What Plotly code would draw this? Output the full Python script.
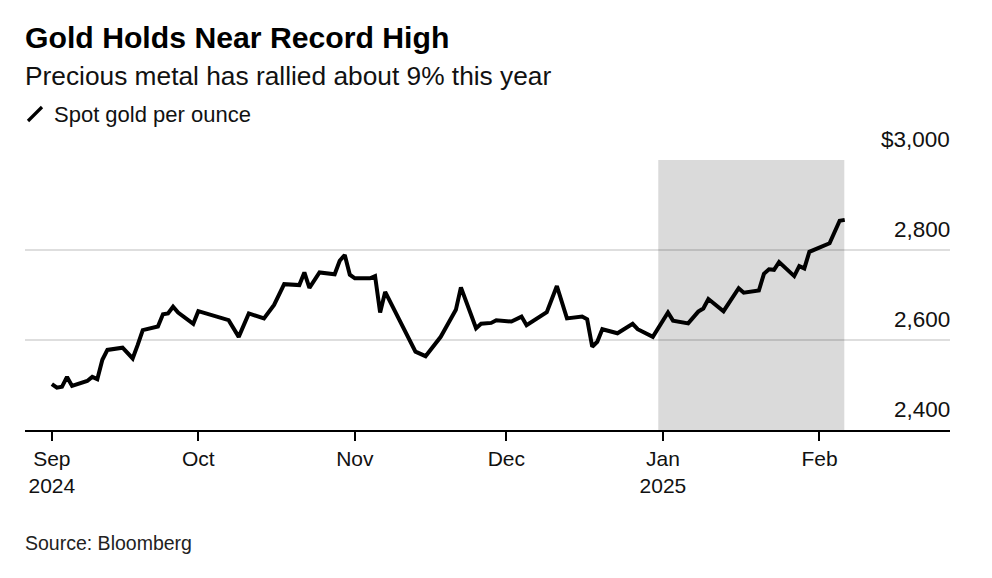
import plotly.graph_objects as go

dates = [
    "2024-09-02", "2024-09-03", "2024-09-04", "2024-09-05", "2024-09-06",
    "2024-09-09", "2024-09-10", "2024-09-11", "2024-09-12", "2024-09-13",
    "2024-09-16", "2024-09-18", "2024-09-19", "2024-09-20", "2024-09-23",
    "2024-09-24", "2024-09-25", "2024-09-26", "2024-09-27", "2024-09-30",
    "2024-10-01", "2024-10-03", "2024-10-07", "2024-10-09", "2024-10-11",
    "2024-10-14", "2024-10-16", "2024-10-18", "2024-10-21", "2024-10-22",
    "2024-10-23", "2024-10-25", "2024-10-28", "2024-10-29", "2024-10-30",
    "2024-10-31", "2024-11-01", "2024-11-04", "2024-11-05", "2024-11-06",
    "2024-11-07", "2024-11-13", "2024-11-15", "2024-11-18", "2024-11-21",
    "2024-11-22", "2024-11-25", "2024-11-26", "2024-11-28", "2024-11-29",
    "2024-12-02", "2024-12-04", "2024-12-05", "2024-12-09", "2024-12-11",
    "2024-12-13", "2024-12-16", "2024-12-17", "2024-12-18", "2024-12-19",
    "2024-12-20", "2024-12-23", "2024-12-26", "2024-12-27", "2024-12-30",
    "2025-01-02", "2025-01-03", "2025-01-06", "2025-01-08", "2025-01-09",
    "2025-01-10", "2025-01-13", "2025-01-16", "2025-01-17", "2025-01-20",
    "2025-01-21", "2025-01-22", "2025-01-23", "2025-01-24", "2025-01-27",
    "2025-01-28", "2025-01-29", "2025-01-30", "2025-02-03", "2025-02-05",
    "2025-02-06",
]
prices = [
    2502, 2494, 2496, 2518, 2498,
    2509, 2518, 2513, 2556, 2578,
    2583, 2559, 2589, 2622, 2630,
    2657, 2659, 2674, 2661, 2636,
    2664, 2658, 2644, 2607, 2659,
    2648, 2678, 2724, 2722, 2750,
    2716, 2750, 2746, 2776, 2789,
    2745, 2737, 2737, 2742, 2661,
    2707, 2574, 2564, 2607, 2667,
    2717, 2626, 2636, 2638, 2644,
    2641, 2652, 2633, 2662, 2720,
    2648, 2652, 2646, 2585, 2596,
    2624, 2615, 2636, 2624, 2607,
    2661, 2643, 2637, 2663, 2670,
    2691, 2664, 2715, 2705, 2710,
    2747, 2757, 2756, 2773, 2742,
    2764, 2759, 2796, 2815, 2865,
    2867,
]

x_tick_vals = ["2024-09-02", "2024-10-01", "2024-11-01", "2024-12-01", "2025-01-01", "2025-02-01"]
x_tick_text = ["Sep<br>2024", "Oct", "Nov", "Dec", "Jan<br>2025", "Feb"]
y_tick_vals = [2400, 2600, 2800, 3000]
y_tick_text = ["2,400", "2,600", "2,800", "$3,000"]

shade_start = "2024-12-31 02:00"
shade_end = "2025-02-05 22:00"

FONT = "Liberation Sans, Arial, sans-serif"

# page has an 8px body margin; plot area target in screen pixels
OFF = 8
L, R, T, B = 25, 950, 160, 430
W, H = 992 - OFF, 578 - OFF


def px(xp):
    return (xp - L) / (R - L)


def py(yp):
    return (B - yp) / (B - T)


fig = go.Figure()
fig.add_trace(go.Scatter(
    x=dates, y=prices, mode="lines",
    line=dict(color="black", width=4),
    hoverinfo="skip", showlegend=False,
))

fig.add_shape(type="rect", xref="x", yref="y", x0=shade_start, x1=shade_end,
              y0=2400, y1=3000, fillcolor="#dadada", line=dict(width=0), layer="below")

# legend icon
fig.add_shape(type="line", xref="paper", yref="paper",
              x0=px(28), y0=py(121), x1=px(42), y1=py(107),
              line=dict(color="black", width=3.2))

fig.add_annotation(text="<b>Gold Holds Near Record High</b>", xref="paper", yref="paper",
                   x=px(23), y=py(37), xanchor="left", yanchor="middle", showarrow=False,
                   font=dict(family=FONT, size=30.2, color="#000"))
fig.add_annotation(text="Precious metal has rallied about 9% this year", xref="paper", yref="paper",
                   x=px(23), y=py(76), xanchor="left", yanchor="middle", showarrow=False,
                   font=dict(family=FONT, size=26.3, color="#111"))
fig.add_annotation(text="Spot gold per ounce", xref="paper", yref="paper",
                   x=px(52), y=py(115), xanchor="left", yanchor="middle", showarrow=False,
                   font=dict(family=FONT, size=22, color="#111"))
fig.add_annotation(text="Source: Bloomberg", xref="paper", yref="paper",
                   x=px(23), y=py(543), xanchor="left", yanchor="middle", showarrow=False,
                   font=dict(family=FONT, size=19.5, color="#222"))

for v, t in zip(y_tick_vals, y_tick_text):
    fig.add_annotation(text=t, xref="paper", yref="y", x=1, y=v,
                       xanchor="right", yanchor="bottom", xshift=2, yshift=6,
                       showarrow=False, font=dict(family=FONT, size=22.5, color="#111"))

fig.update_layout(
    width=W, height=H,
    margin=dict(l=L - OFF, r=W - (R - OFF), t=T - OFF, b=H - (B - OFF)),
    paper_bgcolor="white", plot_bgcolor="white",
    font=dict(family=FONT, color="#111"),
    xaxis=dict(
        type="date",
        range=["2024-08-27 16:20", "2025-02-26 20:20"],
        tickvals=x_tick_vals, ticktext=x_tick_text,
        ticks="outside", ticklen=9, tickwidth=1.5, tickcolor="black",
        showline=True, linecolor="black", linewidth=1.5,
        showgrid=False, zeroline=False,
        tickfont=dict(family=FONT, size=21, color="#111"),
        fixedrange=True,
    ),
    yaxis=dict(
        range=[2400, 3000],
        side="right",
        tickvals=y_tick_vals, showticklabels=False,
        showgrid=True, gridcolor="rgba(0,0,0,0.13)", gridwidth=1.5,
        zeroline=False, showline=False, ticks="",
        fixedrange=True,
    ),
)

fig.write_html("out.html")
